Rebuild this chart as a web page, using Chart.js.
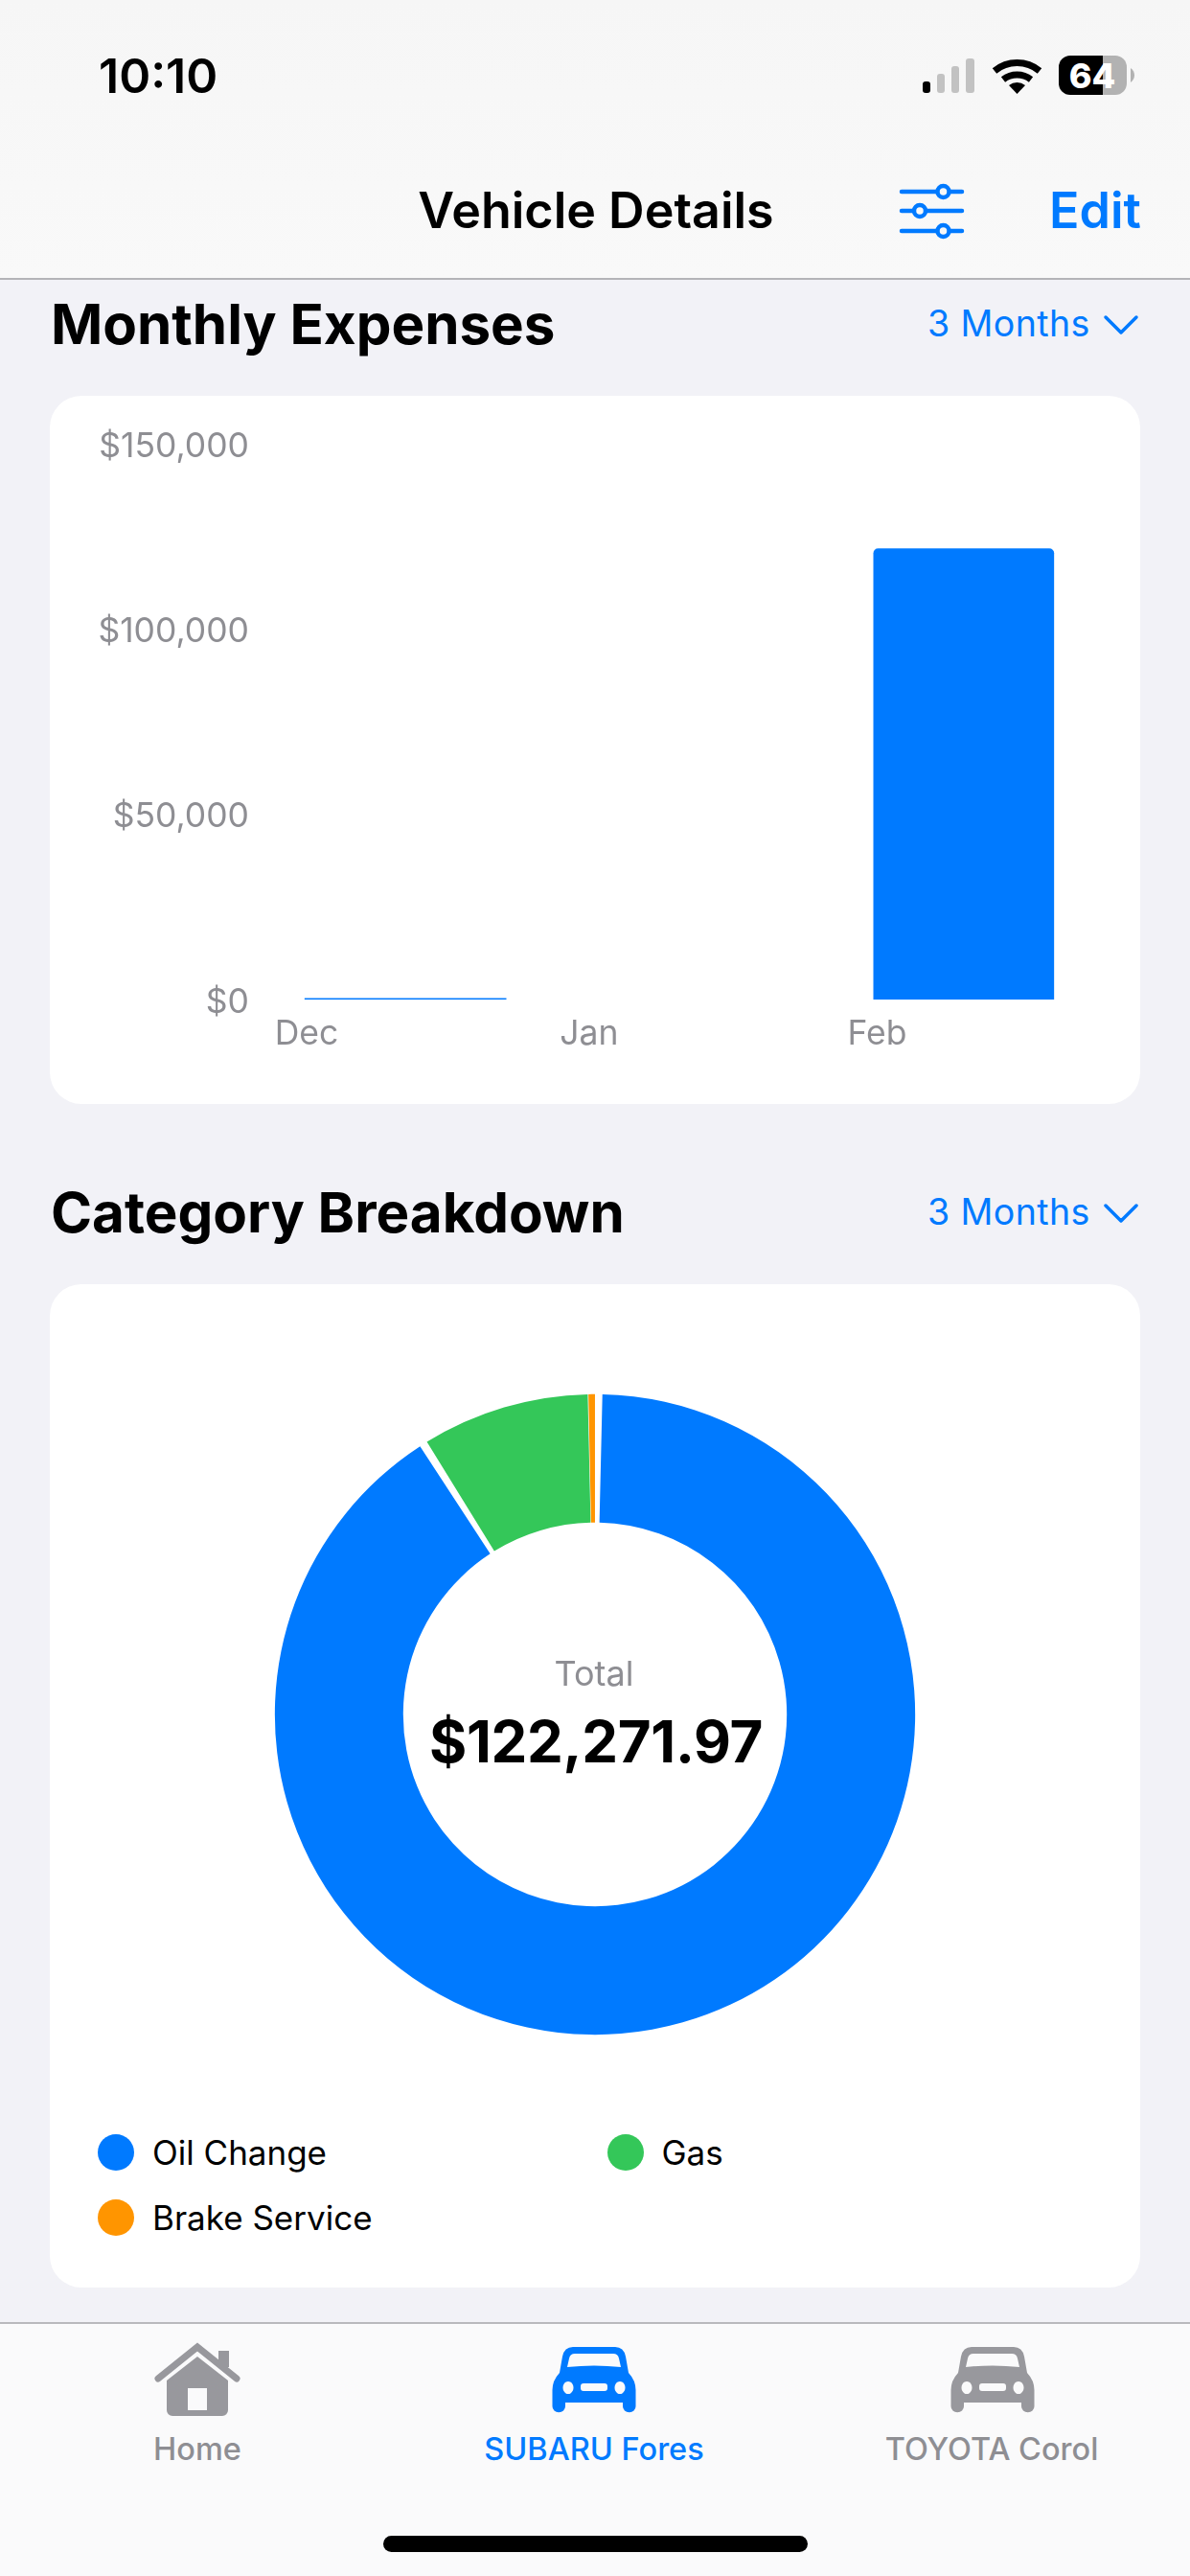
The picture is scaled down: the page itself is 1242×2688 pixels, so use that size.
<!DOCTYPE html>
<html><head><meta charset="utf-8">
<script src="https://cdn.jsdelivr.net/npm/chart.js@4"></script>
<style>
html,body{margin:0;padding:0;background:#f2f2f7;width:1242px;height:2688px;overflow:hidden;font-family:Inter,"Liberation Sans",sans-serif}
.a{position:absolute;white-space:nowrap;line-height:1}
.c{transform:translate(-50%,-50%)}
.l{transform:translateY(-50%)}
.card{position:absolute;left:52px;width:1138px;background:#fff;border-radius:33px}
.bar{position:absolute;left:0;width:1242px}
.blue{color:#007aff}
.sec{font-size:58.300px;font-weight:700;color:#000;left:53px}
.rng{font-size:37.500px;color:#007aff;left:968px;letter-spacing:.4px}
.tab{font-size:32.500px;font-weight:500;color:#8e8e93}
canvas{position:absolute}
</style></head><body>
<div class="bar" style="top:0;height:290px;background:linear-gradient(#f6f6f6,#f9f9f9);border-bottom:2px solid #b4b4b8"></div>
<div class="bar" style="top:2423px;height:265px;background:#fafafb;border-top:2px solid #b9b9bd;box-sizing:border-box"></div>

<div class="a l" style="left:103px;top:79px;font-size:50px;font-weight:600">10:10</div>
<svg class="a" style="left:0;top:0" width="1242" height="290">
  <g><rect x="963" y="85" width="8" height="12" rx="3" fill="#000"/><rect x="978" y="77" width="8" height="20" rx="3" fill="#c2c2c2"/><rect x="993" y="69" width="8" height="28" rx="3" fill="#c2c2c2"/><rect x="1008" y="61" width="9" height="36" rx="3" fill="#c2c2c2"/></g>
  <g fill="none" stroke="#000" stroke-width="7"><path d="M1038 74 a37 37 0 0 1 47 0"/><path d="M1047 83 a24 24 0 0 1 29 0"/></g>
  <path d="M1053 89 a14 14 0 0 1 17 0 L1061.500 98 Z" fill="#000"/>
  <path d="M1117 58 H1151 V99 H1117 a12 12 0 0 1 -12 -12 V70 a12 12 0 0 1 12 -12Z" fill="#000"/>
  <path d="M1151 58 H1164 a12 12 0 0 1 12 12 V87 a12 12 0 0 1 -12 12 H1151Z" fill="#b2b2b2"/>
  <path d="M1180 71 a9 9 0 0 1 0 15Z" fill="#b2b2b2"/>
  <g stroke="#007aff" stroke-width="4.500" stroke-linecap="round" fill="#f8f8f8">
    <path d="M941 200 H1004 M941 220 H1004 M941 241 H1004"/>
    <circle cx="984.500" cy="200" r="6"/><circle cx="960" cy="220" r="6"/><circle cx="984.500" cy="241" r="6"/>
  </g>
</svg>
<div class="a c" style="left:1140px;top:79px;font-size:36px;font-weight:800;color:#fff">64</div>
<div class="a c" style="left:622px;top:220px;font-size:52px;font-weight:600">Vehicle Details</div>
<div class="a c blue" style="left:1143px;top:220px;font-size:52px;font-weight:600">Edit</div>

<div class="a l sec" style="top:338px">Monthly Expenses</div>
<div class="a l rng" style="top:338px">3 Months</div>
<svg class="a" style="left:1150px;top:326px" width="40" height="26"><path d="M4 5 L20 21 L36 5" fill="none" stroke="#007aff" stroke-width="3.500" stroke-linecap="round" stroke-linejoin="round"/></svg>
<div class="card" style="top:413px;height:739px"><canvas id="bar" style="left:0;top:0"></canvas></div>

<div class="a l sec" style="top:1265px">Category Breakdown</div>
<div class="a l rng" style="top:1265px">3 Months</div>
<svg class="a" style="left:1150px;top:1253px" width="40" height="26"><path d="M4 5 L20 21 L36 5" fill="none" stroke="#007aff" stroke-width="3.500" stroke-linecap="round" stroke-linejoin="round"/></svg>
<div class="card" style="top:1340px;height:1047px"></div>
<canvas id="donut" style="left:271px;top:1438.500px"></canvas>
<div class="a c" id="totalLabel" style="left:620px;top:1746px;font-size:36px;color:#8e8e93"></div>
<div class="a c" id="totalValue" style="left:622px;top:1817px;font-size:60px;font-weight:700;letter-spacing:-.3px"></div>
<div id="legend"></div>

<svg class="a" style="left:0;top:2430px" width="1242" height="100" viewBox="0 2430 1242 100">
  <defs>
    <g id="car">
      <path fill-rule="evenodd" d="M-22 2449 H22 Q31 2449 33 2459 L36 2476 Q43.500 2484 43.500 2494 V2511 a6.500 6 0 0 1 -13.500 0 V2507 H-30 V2511 a6.500 6 0 0 1 -13.500 0 V2494 Q-43.500 2484 -36 2476 L-33 2459 Q-31 2449 -22 2449Z
        M-20 2456 Q-25 2456 -26 2461 L-28 2470 Q0 2467 28 2470 L26 2461 Q25 2456 20 2456Z
        M-27 2485 a5.500 6.500 0 1 0 .01 0Z M27 2485 a5.500 6.500 0 1 0 .01 0Z
        M-11 2487 H11 a3 3 0 0 1 3 3 V2492 a3 3 0 0 1 -3 3 H-11 a3 3 0 0 1 -3 -3 V2490 a3 3 0 0 1 3 -3Z"/>
    </g>
  </defs>
  <path d="M165 2482 L206 2449 L247 2482" fill="none" stroke="#98989d" stroke-width="7" stroke-linecap="round" stroke-linejoin="miter"/>
  <path d="M228 2453 H239 V2470 H228Z" fill="#98989d"/>
  <path fill-rule="evenodd" fill="#98989d" d="M206 2459 L238 2484 V2515 a6 6 0 0 1 -6 6 H180 a6 6 0 0 1 -6 -6 V2484 Z M196 2492 V2515 H216 V2492Z"/>
  <use href="#car" x="620" fill="#007aff"/>
  <use href="#car" x="1036" fill="#98989d"/>
</svg>
<div class="a c tab" style="left:206px;top:2556px">Home</div>
<div class="a c tab blue" style="left:620px;top:2556px;color:#007aff">SUBARU Fores</div>
<div class="a c tab" style="left:1035px;top:2556px">TOYOTA Corol</div>
<div class="a" style="left:400px;top:2646px;width:443px;height:17px;border-radius:9px;background:#000"></div>

<script>
// ---- Monthly Expenses ----
const months = ['Dec', 'Jan', 'Feb'];
const monthlyTotals = [300, 0, 121650];
const yTicks = [0, 50000, 100000, 150000];
// ---- Category Breakdown ----
const categories = ['Oil Change', 'Gas', 'Brake Service'];
const categoryTotals = [111471.97, 10400, 400];
const categoryColors = ['#007aff', '#34c759', '#ff9500'];
const totalLabel = 'Total';
const totalValue = '$122,271.97';

const grey = '#8e8e93';
const tickFont = {family: 'Inter', size: 35.5};
// tick labels sit under the left edge of each month's slot, not under the bar centre
const monthTickAt = [-0.354, 0.658, 1.69];

Chart.defaults.animation = false;
Chart.defaults.devicePixelRatio = 1;

const points = monthlyTotals.map((y, x) => ({x, y}));
const barCv = document.getElementById('bar');
barCv.width = 1138; barCv.height = 739;
new Chart(barCv, {
  type: 'bar',
  data: {datasets: [
    {data: points.filter(p => p.x === 0), backgroundColor: '#007aff', barThickness: 210},
    {data: points.filter(p => p.x > 0 && p.y > 0), backgroundColor: '#007aff', barThickness: 188, borderRadius: {topLeft: 5, topRight: 5}, borderSkipped: 'bottom'}
  ]},
  options: {
    responsive: false,
    layout: {padding: {top: 50, right: 38.5, bottom: 0, left: 0}},
    plugins: {legend: {display: false}, tooltip: {enabled: false}},
    datasets: {bar: {grouped: false}},
    scales: {
      x: {
        type: 'linear', min: -0.5, max: 2.5, offset: false,
        grid: {display: false, drawTicks: false}, border: {display: false},
        afterBuildTicks: s => { s.ticks = monthTickAt.map(value => ({value})); },
        afterFit: s => { s.height = 109; },
        ticks: {font: tickFont, color: grey, autoSkip: false, maxRotation: 0, padding: 15,
          callback: (v, i) => months[i]}
      },
      y: {
        min: 0, max: 150000,
        grid: {display: false, drawTicks: false}, border: {display: false},
        afterBuildTicks: s => { s.ticks = yTicks.map(value => ({value})); },
        afterFit: s => { s.width = 225.5; },
        ticks: {font: tickFont, color: grey, padding: 17.5, labelOffset: 3,
          callback: v => '$' + v.toLocaleString('en-US')}
      }
    }
  }
});

const dCv = document.getElementById('donut');
dCv.width = 700; dCv.height = 700;
new Chart(dCv, {
  type: 'doughnut',
  data: {labels: categories, datasets: [{data: categoryTotals, backgroundColor: categoryColors, borderWidth: 0, spacing: 4.3}]},
  options: {
    responsive: false, radius: 332, cutout: 207.5,
    plugins: {legend: {display: false}, tooltip: {enabled: false}}
  }
});

document.getElementById('totalLabel').textContent = totalLabel;
document.getElementById('totalValue').textContent = totalValue;
const legendPos = [[121, 2246], [652.5, 2246], [121, 2314]];
document.getElementById('legend').innerHTML = categories.map((c, i) =>
  `<div class="a" style="left:${legendPos[i][0]-19}px;top:${legendPos[i][1]-19}px;width:38px;height:38px;border-radius:50%;background:${categoryColors[i]}"></div>` +
  `<div class="a l" style="left:${legendPos[i][0]+38}px;top:${legendPos[i][1]}px;font-size:35px;color:#000">${c}</div>`).join('');
</script>
</body></html>
